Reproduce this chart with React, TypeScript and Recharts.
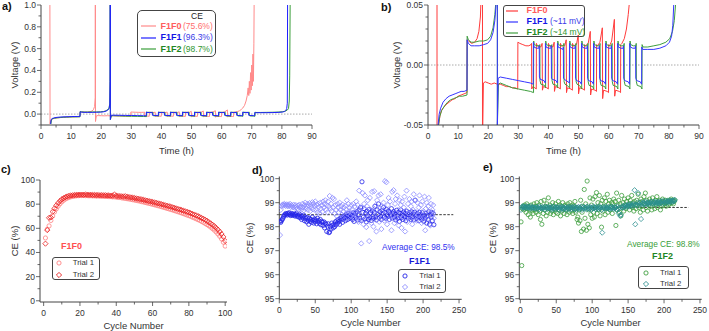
import React from "react";
import {
  LineChart,
  Line,
  ScatterChart,
  Scatter,
  XAxis,
  YAxis,
  ReferenceLine,
} from "recharts";

const FONT = "'Liberation Sans', Arial, Helvetica, sans-serif";
const INK = "#333";
const AXIS = "#444";
const FRAME = "#777";

// voltage profiles: [time (h), voltage (V)]
const F1F0_PROFILE: [number, number][] = [
  [2.95, 1.1], [3.0, -0.09], [3.2, -0.065], [3.5, -0.05], [4, -0.042], [4.5, -0.038], [5, -0.036], [6, -0.033],
  [7, -0.031], [8, -0.029], [9, -0.028], [10, -0.026], [11, -0.025], [12, -0.024], [12.95, -0.023],
  [13.0, 0.021], [13.5, 0.02], [14.5, 0.018], [15.5, 0.019], [16.3, 0.022], [16.9, 0.028], [17.4, 0.04],
  [17.8, 0.07], [18.0, 0.15], [18.05, 1.1], [18.1, -0.068], [18.4, -0.015], [19, -0.014], [20, -0.015],
  [21, -0.016], [22, -0.015], [23, -0.016], [24, -0.016], [25, -0.017], [26, -0.018], [27, -0.018],
  [28, -0.019], [29, -0.019], [29.8, -0.02],
  [29.85, 0.019], [30.5, 0.018], [31.5, 0.017], [32.5, 0.016], [33.5, 0.016], [34.2, 0.017], [34.4, 0.018],
  [34.45, -0.02], [34.8, -0.018], [35.5, -0.019], [35.95, -0.02],
  [36.0, 0.018], [36.3, 0.016], [37.5, 0.015], [37.9, 0.018],
  [38.0, -0.021], [38.3, -0.018], [39.5, -0.019], [39.95, -0.02],
  [40.0, 0.018], [40.3, 0.016], [41.5, 0.015], [41.9, 0.019],
  [42.0, -0.022], [42.3, -0.018], [43.5, -0.019], [43.95, -0.02],
  [44.0, 0.018], [44.3, 0.016], [45.4, 0.016], [45.9, 0.021],
  [46.0, -0.023], [46.3, -0.019], [47.5, -0.02], [47.95, -0.021],
  [48.0, 0.018], [48.3, 0.016], [49.3, 0.017], [49.9, 0.025],
  [50.0, -0.024], [50.3, -0.019], [51.5, -0.02], [51.95, -0.021],
  [52.0, 0.017], [52.3, 0.016], [53.2, 0.018], [53.9, 0.028],
  [54.0, -0.025], [54.3, -0.02], [55.5, -0.021], [55.95, -0.022],
  [56.0, 0.017], [56.3, 0.016], [57.1, 0.019], [57.9, 0.031],
  [58.0, -0.028], [58.3, -0.021], [59.5, -0.022], [59.95, -0.023],
  [60.0, 0.017], [60.3, 0.016], [61.0, 0.02], [61.9, 0.038],
  [62.0, -0.026], [62.3, -0.021], [63.5, -0.022], [63.95, -0.023],
  [64.0, 0.017], [64.4, 0.018], [65.2, 0.022], [65.9, 0.03], [66.5, 0.042], [67.0, 0.055], [67.6, 0.08],
  [68.1, 0.12], [68.5, 0.17], [68.8, 0.24], [69.0, 0.17], [69.2, 0.3], [69.4, 0.19], [69.6, 0.38],
  [69.8, 0.22], [70.0, 0.45], [70.2, 0.26], [70.4, 0.55], [70.55, 0.3], [70.7, 0.65], [70.8, 1.1],
];

const F1F1_PROFILE: [number, number][] = [
  [3.2, -0.09], [3.35, -0.05], [3.7, -0.041], [4.2, -0.036], [5, -0.031], [6, -0.028], [7, -0.026],
  [8, -0.025], [9, -0.024], [10, -0.023], [11, -0.022], [12, -0.022], [12.95, -0.021],
  [13.0, 0.021], [13.4, 0.018], [14.3, 0.016], [15.5, 0.016], [17, 0.016], [18.5, 0.017], [19.8, 0.018],
  [20.8, 0.021], [21.6, 0.027], [22.2, 0.037], [22.6, 0.05], [22.85, 0.09], [22.95, 0.3], [23.0, 1.1],
  [23.03, -0.05], [23.3, -0.011], [24, -0.01], [26, -0.011], [28, -0.012], [30, -0.013], [32, -0.014],
  [34, -0.015], [34.95, -0.016],
  [35.0, 0.019], [35.2, 0.015], [36.0, 0.014], [36.8, 0.014], [36.95, 0.016], [37.0, -0.01], [37.3, -0.012], [38.5, -0.013], [38.95, -0.015],
  [39.0, 0.018], [39.2, 0.015], [40.0, 0.014], [40.8, 0.014], [40.95, 0.016], [41.0, -0.011], [41.3, -0.012], [42.5, -0.013], [42.95, -0.015],
  [43.0, 0.018], [43.2, 0.015], [44.0, 0.014], [44.8, 0.013], [44.95, 0.015], [45.0, -0.011], [45.3, -0.012], [46.5, -0.014], [46.95, -0.015],
  [47.0, 0.018], [47.2, 0.015], [48.0, 0.014], [48.8, 0.014], [48.95, 0.016], [49.0, -0.011], [49.3, -0.013], [50.5, -0.014], [50.95, -0.016],
  [51.0, 0.018], [51.2, 0.015], [52.0, 0.014], [52.8, 0.014], [52.95, 0.016], [53.0, -0.011], [53.3, -0.013], [54.5, -0.014], [54.95, -0.016],
  [55.0, 0.018], [55.2, 0.015], [56.0, 0.014], [56.8, 0.014], [56.95, 0.016], [57.0, -0.011], [57.3, -0.013], [58.5, -0.014], [58.95, -0.016],
  [59.0, 0.018], [59.2, 0.015], [60.0, 0.014], [60.8, 0.014], [60.95, 0.016], [61.0, -0.011], [61.3, -0.013], [62.5, -0.014], [62.95, -0.016],
  [63.0, 0.018], [63.2, 0.015], [64.0, 0.014], [64.8, 0.014], [64.95, 0.016], [65.0, -0.011], [65.3, -0.013], [66.5, -0.014], [66.95, -0.016],
  [67.0, 0.018], [67.2, 0.015], [68.0, 0.014], [68.8, 0.014], [68.95, 0.016], [69.0, -0.011], [69.3, -0.013], [70.5, -0.014], [70.95, -0.016],
  [71.0, 0.015], [71.3, 0.013], [73, 0.013], [75, 0.013], [77, 0.014], [79, 0.016], [80.2, 0.019],
  [80.9, 0.024], [81.3, 0.033], [81.6, 0.05], [81.8, 0.1], [81.9, 1.1],
];

const F1F2_PROFILE: [number, number][] = [
  [3.3, -0.09], [3.5, -0.05], [3.9, -0.043], [4.5, -0.038], [5.5, -0.034], [6.5, -0.031], [7.5, -0.029],
  [8.5, -0.028], [9.5, -0.027], [10.5, -0.026], [11.5, -0.026], [12.95, -0.025],
  [13.0, 0.024], [13.4, 0.021], [14.3, 0.019], [15.5, 0.019], [17, 0.02], [18.5, 0.02], [19.8, 0.021],
  [20.8, 0.024], [21.6, 0.031], [22.2, 0.042], [22.6, 0.055], [22.85, 0.1], [22.95, 0.3], [23.0, 1.05],
  [23.04, -0.05], [23.4, -0.016], [24, -0.015], [26, -0.017], [28, -0.019], [30, -0.02], [32, -0.021],
  [34, -0.022], [35.05, -0.023],
  [35.1, 0.02], [35.3, 0.017], [36.2, 0.016], [37.0, 0.016], [37.15, 0.017], [37.2, -0.013], [37.5, -0.016], [38.7, -0.017], [39.05, -0.019],
  [39.1, 0.02], [39.3, 0.017], [40.2, 0.016], [41.0, 0.016], [41.15, 0.017], [41.2, -0.013], [41.5, -0.016], [42.7, -0.017], [43.05, -0.019],
  [43.1, 0.02], [43.3, 0.017], [44.2, 0.016], [45.0, 0.016], [45.15, 0.018], [45.2, -0.014], [45.5, -0.016], [46.7, -0.018], [47.05, -0.019],
  [47.1, 0.02], [47.3, 0.017], [48.2, 0.016], [49.0, 0.016], [49.15, 0.018], [49.2, -0.014], [49.5, -0.016], [50.7, -0.018], [51.05, -0.02],
  [51.1, 0.02], [51.3, 0.017], [52.2, 0.016], [53.0, 0.016], [53.15, 0.018], [53.2, -0.014], [53.5, -0.017], [54.7, -0.018], [55.05, -0.02],
  [55.1, 0.02], [55.3, 0.017], [56.2, 0.016], [57.0, 0.016], [57.15, 0.018], [57.2, -0.014], [57.5, -0.017], [58.7, -0.018], [59.05, -0.02],
  [59.1, 0.02], [59.3, 0.017], [60.2, 0.016], [61.0, 0.016], [61.15, 0.018], [61.2, -0.014], [61.5, -0.017], [62.7, -0.018], [63.05, -0.02],
  [63.1, 0.02], [63.3, 0.017], [64.2, 0.016], [65.0, 0.016], [65.15, 0.018], [65.2, -0.014], [65.5, -0.017], [66.7, -0.018], [67.05, -0.02],
  [67.1, 0.02], [67.3, 0.017], [68.2, 0.016], [69.0, 0.016], [69.15, 0.018], [69.2, -0.014], [69.5, -0.017], [70.7, -0.018], [71.05, -0.02],
  [71.1, 0.017], [71.4, 0.015], [73, 0.015], [75, 0.016], [77, 0.017], [79, 0.019], [80.3, 0.022],
  [81.2, 0.028], [81.8, 0.037], [82.2, 0.05], [82.45, 0.12], [82.6, 0.35], [82.75, 1.05],
];

const TIME_TICKS = [0, 5, 10, 15, 20, 25, 30, 35, 40, 45, 50, 55, 60, 65, 70, 75, 80, 85, 90];
const TIME_LABELS = [0, 10, 20, 30, 40, 50, 60, 70, 80, 90];
const VOLT_A_TICKS = [-0.1, 0, 0.1, 0.2, 0.3, 0.4, 0.5, 0.6, 0.7, 0.8, 0.9, 1.0];
const VOLT_A_LABELS = [0, 0.2, 0.4, 0.6, 0.8, 1.0];
const VOLT_B_TICKS = [-0.05, -0.04, -0.03, -0.02, -0.01, 0, 0.01, 0.02, 0.03, 0.04, 0.05];
const VOLT_B_LABELS = [-0.05, 0, 0.05];

const LEGEND_A = [
  { name: "F1F0", note: "(75.6%)" },
  { name: "F1F1", note: "(96.3%)" },
  { name: "F1F2", note: "(98.7%)" },
];
const LEGEND_B = [
  { name: "F1F0", note: "" },
  { name: "F1F1", note: "(~11 mV)" },
  { name: "F1F2", note: "(~14 mV)" },
];

// coulombic efficiency (%) per cycle, cycle number = index + 1
const F1F0_TRIAL1 = [
  52.0, 59.2, 62.0, 66.5, 70.2, 73.6, 76.1, 78.4, 80.3, 81.9,
  83.2, 84.3, 85.0, 85.6, 86.1, 86.4, 86.7, 86.9, 87.0, 87.1,
  87.1, 87.2, 87.0, 87.1, 86.9, 87.0, 86.8, 86.9, 86.7, 86.8,
  86.6, 86.7, 86.5, 86.4, 86.5, 86.2, 86.3, 86.0, 86.1, 85.8,
  85.6, 85.5, 85.2, 85.0, 84.8, 84.5, 84.3, 84.0, 83.7, 83.4,
  83.1, 82.8, 82.5, 82.1, 81.8, 81.4, 81.0, 80.7, 80.3, 79.9,
  79.5, 79.1, 78.7, 78.3, 77.9, 77.4, 77.0, 76.5, 76.1, 75.6,
  75.2, 74.7, 74.2, 73.7, 73.2, 72.7, 72.2, 71.6, 71.0, 70.5,
  69.9, 69.2, 68.6, 67.9, 67.2, 66.5, 65.7, 64.9, 64.0, 63.1,
  62.1, 61.0, 59.8, 58.5, 57.0, 55.3, 53.4, 51.2, 48.5, 45.3,
];
const F1F0_TRIAL2 = [
  47.3, 58.5, 68.7, 69.0, 73.8, 76.5, 79.0, 81.0, 82.7, 84.0,
  85.0, 85.8, 86.4, 86.9, 87.2, 87.4, 87.6, 87.7, 87.8, 87.8,
  87.9, 87.8, 88.0, 87.8, 87.7, 87.8, 87.6, 87.7, 87.5, 87.6,
  87.4, 87.5, 87.3, 87.4, 87.2, 87.3, 87.1, 87.0, 88.0, 86.9,
  86.8, 86.7, 86.5, 86.4, 86.6, 86.1, 85.9, 85.6, 85.4, 85.1,
  84.8, 84.5, 84.2, 83.9, 83.6, 83.2, 82.9, 82.5, 82.2, 81.8,
  81.5, 81.1, 80.7, 80.3, 79.9, 79.5, 79.1, 78.7, 78.3, 77.9,
  77.4, 77.0, 76.5, 76.0, 75.6, 75.1, 74.6, 74.1, 73.6, 73.1,
  72.5, 71.9, 71.4, 70.7, 70.1, 69.4, 68.6, 67.9, 67.0, 66.1,
  65.1, 64.1, 63.0, 61.8, 60.4, 58.9, 57.2, 55.3, 52.9, 49.5,
];

const F1F1_TRIAL1 = [
  98.22, 98.18, 98.25, 98.3, 98.35, 98.42, 98.48, 98.5, 98.55, 98.52,
  98.48, 98.56, 98.52, 98.58, 98.5, 98.46, 98.55, 98.49, 98.53, 98.47,
  98.52, 98.44, 98.5, 98.56, 98.43, 98.48, 98.4, 98.52, 98.38, 98.45,
  98.3, 98.42, 98.36, 98.48, 98.25, 98.4, 98.33, 98.2, 98.38, 98.28,
  98.1, 98.35, 98.22, 98.3, 98.18, 98.4, 98.26, 98.15, 98.32, 98.22,
  98.28, 98.12, 98.35, 98.2, 98.25, 98.14, 98.3, 98.08, 98.22, 98.18,
  98.05, 98.2, 97.95, 98.15, 98.1, 97.8, 98.02, 98.12, 97.75, 97.78,
  98.0, 97.9, 98.15, 98.05, 97.95, 98.1, 98.0, 98.2, 98.08, 98.25,
  98.15, 98.3, 98.22, 98.1, 98.35, 98.28, 98.4, 98.18, 98.32, 98.45,
  98.38, 98.25, 98.5, 98.42, 98.3, 98.55, 98.45, 98.35, 98.52, 98.4,
  98.48, 98.3, 98.58, 98.22, 98.45, 98.55, 98.38, 98.62, 98.28, 98.5,
  98.7, 98.35, 98.8, 98.25, 99.87, 98.6, 98.4, 98.75, 98.32, 98.55,
  98.2, 98.65, 98.45, 98.3, 98.72, 98.38, 98.58, 98.26, 98.66, 98.42,
  98.35, 98.6, 98.85, 98.4, 98.28, 98.7, 98.5, 98.95, 98.38, 98.62,
  98.45, 98.3, 98.68, 98.55, 98.8, 98.4, 98.6, 98.35, 98.72, 98.5,
  98.42, 98.65, 98.3, 98.58, 98.48, 98.75, 98.36, 98.55, 98.62, 98.4,
  98.52, 98.28, 98.68, 98.45, 98.35, 98.6, 98.22, 98.55, 98.7, 98.38,
  98.48, 98.3, 98.62, 98.42, 98.55, 98.25, 98.65, 98.4, 98.5, 98.35,
  98.58, 98.45, 98.3, 98.62, 98.4, 98.52, 98.28, 98.6, 99.1, 98.45,
  98.35, 98.55, 98.42, 98.25, 98.6, 98.38, 98.5, 98.3, 98.58, 98.4,
  98.22, 98.48, 98.35, 98.55, 98.15, 98.45, 98.3, 98.62, 98.1, 98.5,
  98.4, 98.6, 98.25, 98.55, 98.08,
];
const F1F1_TRIAL2 = [
  97.65, 98.7, 98.85, 98.9, 98.92, 98.88, 98.95, 98.9, 98.86, 98.93,
  98.9, 98.85, 98.92, 98.88, 98.95, 98.82, 98.9, 98.86, 98.8, 98.92,
  98.85, 98.78, 98.9, 98.82, 98.75, 98.88, 98.7, 98.92, 98.8, 98.85,
  98.72, 98.95, 98.8, 98.68, 98.9, 99.0, 98.75, 98.85, 98.95, 98.7,
  98.88, 98.98, 98.65, 98.9, 98.8, 99.02, 98.72, 98.95, 98.85, 99.05,
  98.7, 98.9, 98.6, 98.95, 98.82, 98.55, 99.0, 98.75, 98.88, 98.62,
  99.05, 98.8, 98.95, 99.1, 98.7, 98.9, 98.6, 99.05, 98.85, 99.28,
  98.75, 98.95, 98.65, 99.2, 98.8, 99.15, 98.55, 98.9, 98.7, 98.45,
  98.95, 98.8, 98.6, 99.0, 98.7, 98.85, 98.5, 98.92, 98.65, 98.8,
  98.3, 98.88, 98.7, 99.1, 98.55, 98.95, 98.65, 98.78, 98.45, 98.9,
  98.7, 98.55, 98.95, 98.35, 98.85, 98.6, 99.05, 98.4, 98.9, 98.2,
  99.5, 98.65, 98.3, 97.3, 98.8, 99.4, 98.1, 98.95, 99.3, 98.5,
  97.98, 98.85, 99.1, 98.4, 97.4, 99.2, 98.7, 98.15, 99.45, 98.6,
  98.0, 99.48, 98.35, 98.9, 97.8, 99.1, 98.55, 99.3, 98.2, 98.75,
  99.35, 97.9, 98.85, 98.4, 99.0, 98.25, 99.9, 98.65, 99.85, 98.1,
  98.9, 99.2, 98.3, 99.05, 98.6, 97.85, 99.45, 98.45, 99.52, 98.15,
  98.95, 99.15, 98.35, 99.3, 98.7, 98.05, 99.1, 98.5, 98.9, 97.95,
  99.05, 98.4, 98.8, 99.25, 97.8, 98.65, 99.5, 98.2, 98.95, 98.55,
  99.15, 98.3, 98.85, 99.05, 98.1, 98.7, 99.35, 98.45, 99.1, 98.6,
  98.25, 99.0, 98.5, 98.8, 99.3, 98.35, 98.9, 98.15, 99.05, 98.65,
  98.4, 99.25, 97.85, 98.75, 99.0, 98.3, 98.85, 99.2, 98.55, 98.05,
  98.95, 98.45, 98.7, 98.9, 98.35,
];

const F1F2_TRIAL1 = [
  98.2, 96.38, 98.75, 98.85, 98.7, 98.9, 98.8, 98.6, 98.95, 98.75,
  98.5, 98.85, 98.7, 98.4, 98.9, 98.65, 98.8, 98.55, 98.95, 98.7,
  98.85, 98.6, 99.0, 98.75, 98.5, 98.9, 98.65, 98.3, 99.05, 98.1,
  98.8, 98.55, 99.1, 98.7, 98.85, 98.45, 98.95, 98.6, 99.2, 98.75,
  98.9, 98.55, 98.8, 98.65, 99.0, 98.5, 98.85, 98.7, 98.95, 98.6,
  98.8, 98.55, 99.05, 98.7, 98.9, 98.45, 98.85, 98.65, 99.0, 98.75,
  98.55, 98.9, 98.7, 98.85, 98.5, 98.95, 98.75, 98.6, 99.0, 98.8,
  98.65, 98.9, 98.55, 98.85, 98.7, 99.05, 98.6, 98.8, 98.3, 98.4,
  98.15, 98.7, 98.25, 99.1, 97.8, 98.6, 98.85, 97.9, 99.55, 98.35,
  98.95, 97.85, 99.9, 98.1, 98.7, 97.95, 99.2, 98.5, 98.9, 98.35,
  99.15, 98.6, 98.4, 99.25, 98.8, 99.42, 98.55, 99.0, 98.7, 99.3,
  98.45, 98.95, 97.98, 99.1, 98.65, 98.85, 99.2, 98.5, 99.05, 98.75,
  99.35, 98.6, 98.95, 99.1, 98.7, 98.85, 99.0, 98.55, 98.95, 99.15,
  98.8, 99.05, 98.05, 99.4, 98.7, 98.9, 99.1, 98.6, 98.95, 98.45,
  99.3, 98.8, 99.0, 98.65, 99.15, 98.9, 98.75, 99.05, 98.85, 99.2,
  98.95, 98.7, 99.1, 98.85, 99.3, 98.8, 99.0, 98.65, 99.05, 98.9,
  98.75, 99.1, 98.9, 99.35, 98.8, 99.0, 98.6, 99.15, 98.85, 99.05,
  98.7, 99.25, 98.95, 99.4, 98.8, 99.1, 98.65, 99.0, 98.9, 99.15,
  98.85, 99.05, 98.7, 99.2, 98.95, 99.0, 98.75, 99.1, 98.9, 99.25,
  98.8, 99.05, 98.95, 99.1, 98.7, 99.0, 98.85, 99.15, 98.9, 99.05,
  98.95, 99.1, 98.85, 99.0, 99.05, 98.9, 99.1, 98.95, 99.05, 99.15,
  99.0, 99.1, 98.95, 99.05, 99.1,
];
const F1F2_TRIAL2 = [
  98.7, 98.8, 98.85, 98.8, 98.85, 98.8, 98.82, 98.78, 98.85, 98.8,
  98.82, 98.78, 98.8, 98.85, 98.75, 98.8, 98.82, 98.78, 98.8, 98.76,
  98.8, 98.74, 98.82, 98.78, 98.8, 98.72, 98.84, 98.78, 98.8, 98.75,
  98.82, 98.76, 98.8, 98.7, 98.84, 98.78, 98.8, 98.74, 98.82, 98.78,
  98.8, 98.75, 98.82, 98.7, 98.78, 98.84, 98.76, 98.8, 98.72, 98.82,
  98.78, 98.8, 98.74, 98.82, 98.68, 98.8, 98.76, 98.84, 98.78, 98.72,
  98.8, 98.76, 98.82, 98.7, 98.78, 98.8, 98.74, 98.84, 98.76, 98.8,
  98.72, 98.82, 98.78, 98.8, 98.74, 98.84, 98.76, 98.7, 98.8, 98.78,
  98.82, 98.74, 98.8, 98.76, 98.84, 98.7, 98.78, 98.82, 98.75, 98.8,
  98.78, 98.72, 98.84, 98.76, 98.8, 98.74, 98.82, 98.78, 98.7, 98.8,
  98.76, 98.84, 98.78, 98.8, 98.72, 98.82, 98.76, 98.8, 98.74, 98.84,
  98.78, 98.8, 98.7, 97.75, 98.82, 98.76, 98.8, 98.74, 98.84, 98.78,
  98.8, 98.76, 98.82, 98.72, 98.8, 98.78, 98.84, 98.76, 98.8, 98.74,
  98.82, 98.78, 98.8, 98.7, 98.84, 98.76, 98.55, 98.8, 98.45, 98.5,
  98.82, 98.78, 98.86, 98.8, 98.9, 98.84, 98.88, 98.82, 98.92, 98.86,
  98.9, 98.85, 98.95, 98.88, 98.92, 98.86, 98.95, 98.9, 99.52, 98.1,
  98.92, 98.88, 99.0, 99.4, 98.95, 98.9, 99.02, 98.32, 98.96, 98.92,
  99.0, 98.94, 98.98, 99.05, 98.92, 99.0, 98.96, 99.02, 98.94, 99.0,
  98.98, 99.04, 98.95, 99.0, 98.96, 99.05, 98.98, 99.02, 98.94, 99.0,
  99.04, 98.96, 99.0, 99.06, 98.98, 99.02, 99.05, 98.96, 99.08, 99.0,
  99.02, 99.06, 98.98, 99.04, 99.08, 99.0, 99.05, 99.1, 99.02, 99.06,
  99.08, 99.04, 99.1, 99.06, 99.12,
];

// average CE guide lines: [value, last cycle]
const F1F1_AVERAGE: [number, number] = [98.5, 242];
const F1F2_AVERAGE: [number, number] = [98.8, 234];

const C_X_TICKS = [0, 10, 20, 30, 40, 50, 60, 70, 80, 90, 100];
const C_X_LABELS = [0, 20, 40, 60, 80, 100];
const C_Y_TICKS = [0, 10, 20, 30, 40, 50, 60, 70, 80, 90, 100];
const C_Y_LABELS = [0, 20, 40, 60, 80, 100];
const DE_X_TICKS = [0, 25, 50, 75, 100, 125, 150, 175, 200, 225, 250];
const DE_X_LABELS = [0, 50, 100, 150, 200, 250];
const DE_Y_TICKS = [95, 95.5, 96, 96.5, 97, 97.5, 98, 98.5, 99, 99.5, 100];
const DE_Y_LABELS = [95, 96, 97, 98, 99, 100];

const toPts = (rows: [number, number][]) => rows.map(([t, v]) => ({ t, v }));
const toCycles = (vals: number[]) => vals.map((ce, i) => ({ n: i + 1, ce }));
const near = (list: number[], v: number) => list.some((l) => Math.abs(l - v) < 1e-6);

function bottomTick(labels: number[], fmt: (v: number) => string) {
  return (p: any) => {
    const v = p.payload.value;
    const major = near(labels, v);
    return (
      <g>
        <line x1={p.x} y1={p.y} x2={p.x} y2={p.y + (major ? 4 : 2.5)} stroke={AXIS} strokeWidth={0.8} />
        {major && (
          <text x={p.x} y={p.y + 13.5} textAnchor="middle" fontSize={8.5} fill={INK} fontFamily={FONT}>
            {fmt(v)}
          </text>
        )}
      </g>
    );
  };
}

function leftTick(labels: number[], fmt: (v: number) => string) {
  return (p: any) => {
    const v = p.payload.value;
    const major = near(labels, v);
    return (
      <g>
        <line x1={p.x - (major ? 4 : 2.5)} y1={p.y} x2={p.x} y2={p.y} stroke={AXIS} strokeWidth={0.8} />
        {major && (
          <text x={p.x - 5} y={p.y + 3} textAnchor="end" fontSize={8.5} fill={INK} fontFamily={FONT}>
            {fmt(v)}
          </text>
        )}
      </g>
    );
  };
}

const circle = (color: string) => (p: any) => (
  <circle cx={p.cx} cy={p.cy} r={2.1} fill="none" stroke={color} strokeWidth={0.8} />
);
const diamond = (color: string) => (p: any) => (
  <path
    d={`M${p.cx},${p.cy - 2.6}L${p.cx + 2.6},${p.cy}L${p.cx},${p.cy + 2.6}L${p.cx - 2.6},${p.cy}Z`}
    fill="none"
    stroke={color}
    strokeWidth={0.8}
  />
);

const titleStyle = { fontSize: 9.5, fill: INK, fontFamily: FONT };

function VoltagePanel(props: {
  left: number;
  width: number;
  yWidth: number;
  right: number;
  domain: [number, number];
  ticks: number[];
  labels: number[];
  digits: number;
  titleOffset: number;
  colors: string[];
}) {
  const { left, width, yWidth, right, domain, ticks, labels, digits, titleOffset, colors } = props;
  return (
    <div style={{ position: "absolute", left, top: 0 }}>
      <LineChart width={width} height={160} margin={{ top: 5, right, bottom: 5, left: 0 }}>
        <XAxis
          type="number"
          dataKey="t"
          domain={[0, 90]}
          ticks={TIME_TICKS}
          interval={0}
          height={30}
          tickSize={0}
          tickMargin={0}
          tickLine={false}
          stroke={AXIS}
          tick={bottomTick(TIME_LABELS, (v) => String(v))}
          label={{ value: "Time (h)", position: "insideBottom", offset: 1.5, ...titleStyle }}
        />
        <YAxis
          type="number"
          domain={domain}
          allowDataOverflow
          ticks={ticks}
          interval={0}
          width={yWidth}
          tickSize={0}
          tickMargin={0}
          tickLine={false}
          stroke={AXIS}
          tick={leftTick(labels, (v) => v.toFixed(digits))}
          label={{
            value: "Voltage (V)",
            angle: -90,
            position: "insideLeft",
            offset: titleOffset,
            style: { textAnchor: "middle" },
            ...titleStyle,
          }}
        />
        <XAxis xAxisId="top" orientation="top" type="number" domain={[0, 90]} height={0} tick={false} tickLine={false} stroke={FRAME} />
        <YAxis yAxisId="right" orientation="right" type="number" domain={domain} width={0} tick={false} tickLine={false} stroke={FRAME} />
        <ReferenceLine y={0} stroke="#aaa" strokeDasharray="1.5 1.5" />
        <Line data={toPts(F1F0_PROFILE)} dataKey="v" stroke={colors[0]} strokeWidth={1} dot={false} isAnimationActive={false} />
        <Line data={toPts(F1F2_PROFILE)} dataKey="v" stroke={colors[2]} strokeWidth={1} dot={false} isAnimationActive={false} />
        <Line data={toPts(F1F1_PROFILE)} dataKey="v" stroke={colors[1]} strokeWidth={1} dot={false} isAnimationActive={false} />
      </LineChart>
    </div>
  );
}

function CEPanel(props: {
  left: number;
  width: number;
  yWidth: number;
  top: number;
  right: number;
  bottom: number;
  xHeight: number;
  xDomain: [number, number];
  yDomain: [number, number];
  xTicks: number[];
  xLabels: number[];
  yTicks: number[];
  yLabels: number[];
  titleOffset: number;
  series: { data: number[]; shape: (p: any) => React.ReactElement }[];
  average?: [number, number];
}) {
  const p = props;
  return (
    <div style={{ position: "absolute", left: p.left, top: 165 }}>
      <ScatterChart width={p.width} height={166} margin={{ top: p.top, right: p.right, bottom: p.bottom, left: 0 }}>
        <XAxis
          type="number"
          dataKey="n"
          domain={p.xDomain}
          allowDataOverflow
          ticks={p.xTicks}
          interval={0}
          height={p.xHeight}
          tickSize={0}
          tickMargin={0}
          tickLine={false}
          stroke={AXIS}
          tick={bottomTick(p.xLabels, (v) => String(v))}
          label={{ value: "Cycle Number", position: "insideBottom", offset: 0.5, ...titleStyle }}
        />
        <YAxis
          type="number"
          dataKey="ce"
          domain={p.yDomain}
          allowDataOverflow
          ticks={p.yTicks}
          interval={0}
          width={p.yWidth}
          tickSize={0}
          tickMargin={0}
          tickLine={false}
          stroke={AXIS}
          tick={leftTick(p.yLabels, (v) => String(v))}
          label={{
            value: "CE (%)",
            angle: -90,
            position: "insideLeft",
            offset: p.titleOffset,
            style: { textAnchor: "middle" },
            ...titleStyle,
          }}
        />
        <XAxis xAxisId="top" orientation="top" type="number" domain={p.xDomain} height={0} tick={false} tickLine={false} stroke={FRAME} />
        <YAxis yAxisId="right" orientation="right" type="number" domain={p.yDomain} width={0} tick={false} tickLine={false} stroke={FRAME} />
        {p.series.map((s, i) => (
          <Scatter key={i} data={toCycles(s.data)} shape={s.shape} isAnimationActive={false} />
        ))}
        {p.average && (
          <ReferenceLine
            segment={[
              { x: 0, y: p.average[0] },
              { x: p.average[1], y: p.average[0] },
            ]}
            stroke="#222"
            strokeWidth={0.9}
            strokeDasharray="2.5 1.5"
          />
        )}
      </ScatterChart>
    </div>
  );
}

const abs = (left: number, top: number, extra: React.CSSProperties = {}): React.CSSProperties => ({
  position: "absolute",
  left,
  top,
  whiteSpace: "nowrap",
  lineHeight: 1,
  fontFamily: FONT,
  ...extra,
});

const LineSwatch = ({ color, width }: { color: string; width: number }) => (
  <svg width={width} height={4} style={{ display: "block" }}>
    <line x1={0} y1={2} x2={width} y2={2} stroke={color} strokeWidth={1.2} />
  </svg>
);

const MarkSwatch = ({ color, kind }: { color: string; kind: "circle" | "diamond" }) => (
  <svg width={8} height={8} style={{ display: "block" }}>
    {kind === "circle" ? (
      <circle cx={4} cy={4} r={2.1} fill="none" stroke={color} strokeWidth={0.9} />
    ) : (
      <path d="M4,1.4L6.6,4L4,6.6L1.4,4Z" fill="none" stroke={color} strokeWidth={0.9} />
    )}
  </svg>
);

function TrialLegend(props: {
  left: number;
  top: number;
  width: number;
  height: number;
  rows: number[];
  markX: number;
  textX: number;
  marks: { color: string; kind: "circle" | "diamond" }[];
}) {
  const { left, top, width, height, rows, markX, textX, marks } = props;
  return (
    <div
      style={{
        position: "absolute",
        left,
        top,
        width,
        height,
        border: "1px solid #444",
        borderRadius: 3,
        boxSizing: "border-box",
      }}
    >
      {marks.map((m, i) => (
        <React.Fragment key={i}>
          <div style={abs(markX - 5, rows[i] - 5)}>
            <MarkSwatch color={m.color} kind={m.kind} />
          </div>
          <div style={abs(textX - 1, rows[i] - 5, { fontSize: 7.8, color: INK })}>{`Trial ${i + 1}`}</div>
        </React.Fragment>
      ))}
    </div>
  );
}

const A_COLORS = ["#ff8a8a", "#1f1fff", "#3a9e3a"];
const B_COLORS = ["#ff3b3b", "#3535ff", "#3e9e3e"];
const NAME_COLORS = ["#ff5c5c", "#1515e6", "#1f861f"];
const NOTE_COLORS = ["#ff6e6e", "#3a3ae8", "#2f962f"];
const A_ROWS = [15.5, 27, 38.5];
const B_ROWS = [4.5, 15.8, 26.6];

export default function App() {
  return (
    <div style={{ position: "absolute", left: 0, top: 0, width: 709, height: 331, background: "#fff", fontFamily: FONT }}>
      <VoltagePanel
        left={0}
        width={320}
        yWidth={41}
        right={8}
        domain={[-0.1, 1.0]}
        ticks={VOLT_A_TICKS}
        labels={VOLT_A_LABELS}
        digits={1}
        titleOffset={15}
        colors={A_COLORS}
      />
      <VoltagePanel
        left={360}
        width={349}
        yWidth={68}
        right={10}
        domain={[-0.05, 0.05]}
        ticks={VOLT_B_TICKS}
        labels={VOLT_B_LABELS}
        digits={2}
        titleOffset={36.5}
        colors={B_COLORS}
      />

      <CEPanel
        left={0}
        width={235}
        yWidth={40}
        top={15}
        right={8}
        bottom={2}
        xHeight={27}
        xDomain={[-2, 101]}
        yDomain={[-1, 100]}
        xTicks={C_X_TICKS}
        xLabels={C_X_LABELS}
        yTicks={C_Y_TICKS}
        yLabels={C_Y_LABELS}
        titleOffset={15}
        series={[
          { data: F1F0_TRIAL1, shape: circle("#ff8080") },
          { data: F1F0_TRIAL2, shape: diamond("#e81c1c") },
        ]}
      />
      <CEPanel
        left={240}
        width={230}
        yWidth={39.3}
        top={11.5}
        right={8.3}
        bottom={4.2}
        xHeight={27.5}
        xDomain={[0, 253.7]}
        yDomain={[94.975, 100.09]}
        xTicks={DE_X_TICKS}
        xLabels={DE_X_LABELS}
        yTicks={DE_Y_TICKS}
        yLabels={DE_Y_LABELS}
        titleOffset={10}
        series={[
          { data: F1F1_TRIAL1, shape: circle("#2424e8") },
          { data: F1F1_TRIAL2, shape: diamond("#8a8aff") },
        ]}
        average={F1F1_AVERAGE}
      />
      <CEPanel
        left={475}
        width={234}
        yWidth={44.3}
        top={11.5}
        right={7.3}
        bottom={4.2}
        xHeight={27.5}
        xDomain={[-1.4, 252.4]}
        yDomain={[94.975, 100.09]}
        xTicks={DE_X_TICKS}
        xLabels={DE_X_LABELS}
        yTicks={DE_Y_TICKS}
        yLabels={DE_Y_LABELS}
        titleOffset={17.7}
        series={[
          { data: F1F2_TRIAL1, shape: circle("#3e9e3e") },
          { data: F1F2_TRIAL2, shape: diamond("#2b8f8f") },
        ]}
        average={F1F2_AVERAGE}
      />

      {/* panel letters */}
      <div style={abs(2, 1, { fontSize: 11, fontWeight: "bold", color: "#111" })}>a)</div>
      <div style={abs(381, 2, { fontSize: 11, fontWeight: "bold", color: "#111" })}>b)</div>
      <div style={abs(1, 164, { fontSize: 11, fontWeight: "bold", color: "#111" })}>c)</div>
      <div style={abs(252, 165, { fontSize: 11, fontWeight: "bold", color: "#111" })}>d)</div>
      <div style={abs(483, 162, { fontSize: 11, fontWeight: "bold", color: "#111" })}>e)</div>

      {/* legend a */}
      <div
        style={{
          position: "absolute",
          left: 136.5,
          top: 9.5,
          width: 79,
          height: 47,
          border: "1px solid #444",
          borderRadius: 5,
          boxSizing: "border-box",
        }}
      >
        <div style={abs(53.5, 1, { fontSize: 8.5, color: "#222" })}>CE</div>
        {LEGEND_A.map((row, i) => (
          <React.Fragment key={row.name}>
            <div style={abs(3, A_ROWS[i] - 2)}>
              <LineSwatch color={A_COLORS[i]} width={15} />
            </div>
            <div style={abs(23, A_ROWS[i] - 4.5, { fontSize: 9, fontWeight: "bold", color: NAME_COLORS[i] })}>
              {row.name}
            </div>
            <div style={abs(45.5, A_ROWS[i] - 4.5, { fontSize: 8.5, color: NOTE_COLORS[i] })}>{row.note}</div>
          </React.Fragment>
        ))}
      </div>

      {/* legend b */}
      <div
        style={{
          position: "absolute",
          left: 503,
          top: 5,
          width: 82,
          height: 32,
          border: "1px solid #444",
          borderRadius: 3,
          boxSizing: "border-box",
        }}
      >
        {LEGEND_B.map((row, i) => (
          <React.Fragment key={row.name}>
            <div style={abs(1.5, B_ROWS[i] - 2)}>
              <LineSwatch color={B_COLORS[i]} width={12} />
            </div>
            <div style={abs(22.5, B_ROWS[i] - 4.5, { fontSize: 9, fontWeight: "bold", color: NAME_COLORS[i] })}>
              {row.name}
            </div>
            <div style={abs(46, B_ROWS[i] - 4.5, { fontSize: 8.5, color: NOTE_COLORS[i] })}>{row.note}</div>
          </React.Fragment>
        ))}
      </div>

      {/* CE annotations */}
      <div style={abs(61, 242, { fontSize: 9, fontWeight: "bold", color: "#ff5050" })}>F1F0</div>
      <TrialLegend
        left={51.7}
        top={257.3}
        width={48.5}
        height={23}
        rows={[6, 17.5]}
        markX={7}
        textX={21}
        marks={[
          { color: "#ff8080", kind: "circle" },
          { color: "#e81c1c", kind: "diamond" },
        ]}
      />

      <div style={abs(382, 242.5, { fontSize: 8.3, color: "#3030f0" })}>Average CE: 98.5%</div>
      <div style={abs(409, 257, { fontSize: 9, fontWeight: "bold", color: "#1a1ad8" })}>F1F1</div>
      <TrialLegend
        left={398}
        top={269}
        width={48}
        height={24}
        rows={[7, 17.7]}
        markX={7}
        textX={21.3}
        marks={[
          { color: "#2424e8", kind: "circle" },
          { color: "#8a8aff", kind: "diamond" },
        ]}
      />

      <div style={abs(627, 239.5, { fontSize: 8.3, color: "#3a9e3a" })}>Average CE: 98.8%</div>
      <div style={abs(652, 252, { fontSize: 9, fontWeight: "bold", color: "#1f861f" })}>F1F2</div>
      <TrialLegend
        left={638}
        top={266}
        width={51}
        height={23}
        rows={[6.7, 18]}
        markX={7.7}
        textX={22}
        marks={[
          { color: "#3e9e3e", kind: "circle" },
          { color: "#2b8f8f", kind: "diamond" },
        ]}
      />
    </div>
  );
}
